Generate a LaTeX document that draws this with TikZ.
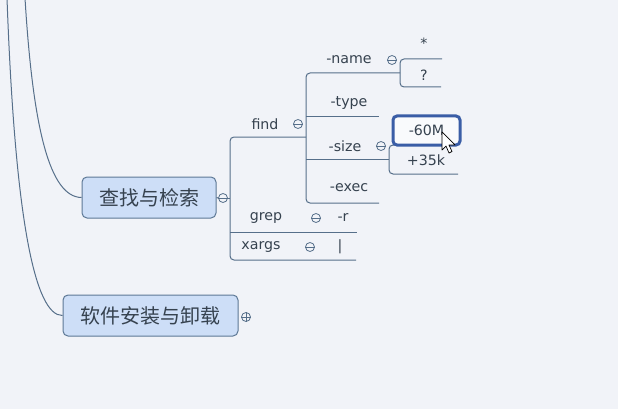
\documentclass[tikz,border=0pt]{standalone}
\usepackage{fontspec}
\setmainfont{DejaVu Sans}
\newfontfamily\cjk{Noto Sans CJK SC}
\usepackage{tikz}
\definecolor{bgcol}{HTML}{F1F3F8}
\definecolor{linecol}{HTML}{566F8A}
\definecolor{boxfill}{HTML}{CDDEF7}
\definecolor{boxline}{HTML}{5D7895}
\definecolor{txtcol}{HTML}{36424F}
\definecolor{selcol}{HTML}{3A5DA6}

\begin{document}
\begin{tikzpicture}[x=1pt, y=-1pt, thick,
		main topic/.style={rectangle,rounded corners=5pt,draw=boxline,fill=boxfill,line width=1pt,
			inner sep=0pt,minimum height=41pt,text=txtcol,font=\cjk\fontsize{20}{20}\selectfont},
		sub topic/.style={inner sep=0pt,text=txtcol,font=\fontsize{14.2}{15}\selectfont},
		fold node/.style={circle,draw=linecol,fill=bgcol,line width=0.8pt,inner sep=0pt,minimum size=9pt},
		branch/.style={draw=linecol,line width=1pt,rounded corners=4pt}]
			
			\fill[bgcol] (0,0) rectangle (618,409);
			\useasboundingbox (0,0) rectangle (618,409);
			\clip (0,0) rectangle (618,409);
			
			% main topics
			\node[main topic, minimum width=134pt] (search) at (149,197.5) {查找与检索};
			\node[main topic, minimum width=175pt] (install) at (150.5,315.5) {软件安装与卸载};
			\coordinate (up1) at (7,-2);
			\coordinate (up2) at (25,-2);
			\draw[branch] (up1) .. controls (15,220) and (35,316) .. (install.west);
			\draw[branch] (up2) .. controls (33,130) and (50,197) .. (search.west);
			
			% fold buttons
			\node[fold node] (searchfold) at (223,198) {};
			\node[fold node] (installfold) at (246,317) {};
			\draw[linecol, line width=0.8pt] (installfold.west) -- (installfold.east)
				(installfold.north) -- (installfold.south);
			\draw[branch] (search.east) -- (searchfold.west);
			
			% find / grep / xargs
			\node[sub topic] (find) at (265,124) {find};
			\node[sub topic] (grep) at (266,218) {grep};
			\node[sub topic] (xargs) at (261,247) {xargs};
			\node[sub topic] (r) at (343,218) {-r};
			\node[sub topic] (pipe) at (340,247) {|};
			\coordinate (findR) at (306,137);
			\coordinate (grepR) at (357,232);
			\coordinate (xargsR) at (356,260);
			\draw[branch] (findR) -- (230,137) -- (230,260) -- (xargsR);
			\draw[branch] (230,232) -- (grepR);
			\draw[branch] (searchfold.east) -- (230,198);
			
			% options of find
			\node[sub topic] (name) at (349,60) {-name};
			\node[sub topic] (type) at (349,103) {-type};
			\node[sub topic] (size) at (345,146) {-size};
			\node[sub topic] (exec) at (349,188) {-exec};
			\coordinate (nameR) at (400,73);
			\coordinate (typeR) at (379,117);
			\coordinate (sizeR) at (389,159);
			\coordinate (execR) at (379,203);
			\draw[branch] (nameR) -- (306,73) -- (306,203) -- (execR);
			\draw[branch] (306,117) -- (typeR);
			\draw[branch] (306,159) -- (sizeR);
			
			% values
			\node[sub topic] (star) at (424,43) {*};
			\node[sub topic] (qmark) at (424,75) {?};
			\coordinate (starR) at (442,59);
			\coordinate (qmarkR) at (441,87);
			\draw[branch] (starR) -- (400,59) -- (400,87) -- (qmarkR);
			
			\coordinate (minusR) at (458,145);
			\coordinate (plusR) at (458,174);
			\draw[branch] (minusR) -- (389,145) -- (389,174) -- (plusR);
			\node[sub topic, rectangle, rounded corners=4pt, draw=selcol, line width=3pt, fill=white!60!bgcol,
				minimum width=67pt, minimum height=29pt] (minus) at (426.5,130.5) {-60M};
			\node[sub topic] (plus) at (426,160) {+35k};
			
			% remaining fold buttons
			\foreach \f/\p in {findfold/{(298,124)}, namefold/{(392,60)}, sizefold/{(381,146)},
				grepfold/{(316,218)}, xargsfold/{(310,247)}}
			{
				\node[fold node] (\f) at \p {};
				\draw[linecol, line width=0.8pt] (\f.west) -- (\f.east);
			}
			\draw[linecol, line width=0.8pt] (searchfold.west) -- (searchfold.east);
			
			% mouse pointer
			\draw[fill=white, line width=0.7pt, line join=round] (442,132) -- (442,150) -- (446,146)
				-- (449,153) -- (452,151.5) -- (449,145) -- (455,145) -- cycle;
			
			\end{tikzpicture}
\end{document}
